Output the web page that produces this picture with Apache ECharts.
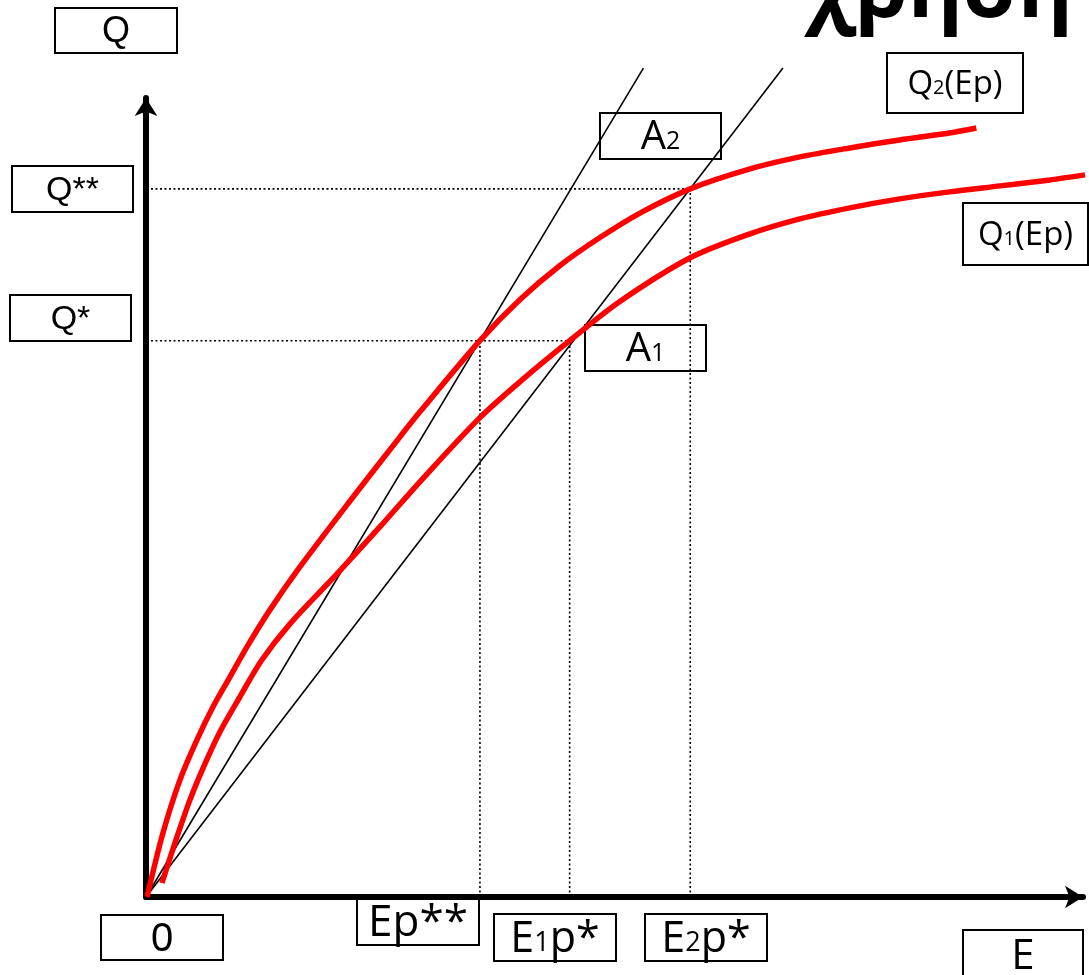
<!DOCTYPE html>
<html>
<head>
<meta charset="UTF-8">
<title>Q(E)</title>
<script src="https://cdn.jsdelivr.net/npm/echarts@6/dist/echarts.min.js"></script>
<style>
	html, body { margin: 0; padding: 0; background: #fff; }
	#main { width: 1089px; height: 975px; }
</style>
</head>
<body>
<div id="main"></div>
<script>
// red curves
var q2E = [0.1, 1.7, 3.4, 5.1, 6.7, 8.4, 10.1, 12.4, 15.4, 20.5, 25.5, 27.5, 33.5, 37.5, 41.5, 45.5, 49.6, 54.6, 60.6, 65.6, 70.6, 75.6, 80.6, 83.3];
var q2Q = [0, 6.4, 11.7, 15.7, 19.0, 22.0, 25.0, 28.7, 33.0, 39.7, 46.1, 48.6, 55.7, 59.8, 63.2, 66.0, 68.5, 70.9, 72.9, 74.1, 75.0, 75.8, 76.5, 77.0];
var q1E = [1.6, 2.9, 4.4, 5.9, 7.4, 9.4, 11.6, 14.4, 19.3, 23.5, 27.5, 33.5, 38.0, 42.5, 47.5, 54.6, 60.6, 65.6, 70.6, 75.6, 80.6, 85.7, 90.7, 94.2];
var q1Q = [1.4, 5.4, 9.7, 13.3, 16.5, 20.0, 23.7, 27.3, 32.5, 37.1, 41.6, 48.0, 52.0, 55.7, 59.6, 64.0, 66.4, 67.9, 69.0, 69.9, 70.6, 71.2, 71.8, 72.3];

// straight lines from the origin (end points)
var ray1 = [[0, 0], [49.9, 83]];
var ray2 = [[0, 0], [63.9, 83]];

// guide levels
var qStar = 55.7, qStar2 = 70.9;
var epStar2 = 33.5, e1pStar = 42.5, e2pStar = 54.6;

function pairs(xs, ys) {
	var out = [];
	for (var i = 0; i < xs.length; i++) out.push([xs[i], ys[i]]);
	return out;
}

var guides = [
	[[0.5, qStar2], [e2pStar, qStar2]],
	[[0.5, qStar], [e1pStar, qStar]],
	[[epStar2, 0], [epStar2, qStar]],
	[[e1pStar, 0], [e1pStar, qStar]],
	[[e2pStar, 0], [e2pStar, qStar2]]
];

var myChart = echarts.init(document.getElementById('main'));

var series = [];
guides.forEach(function (g) {
	series.push({
		type: 'line', data: g, showSymbol: false, clip: false, silent: true,
		lineStyle: { color: '#000', width: 1.6, type: [2, 2.5] }, z: 1
	});
});
[ray1, ray2].forEach(function (r) {
	series.push({
		type: 'line', data: r, showSymbol: false, clip: false,
		lineStyle: { color: '#000', width: 1.6 }, z: 2
	});
});
series.push({
	name: 'Q2(Ep)', type: 'line', data: pairs(q2E, q2Q), showSymbol: false, clip: false,
	smooth: 0.3, lineStyle: { color: '#ff0000', width: 5.5 }, z: 3
});
series.push({
	name: 'Q1(Ep)', type: 'line', data: pairs(q1E, q1Q), showSymbol: false, clip: false,
	smooth: 0.3, lineStyle: { color: '#ff0000', width: 5.5 }, z: 3
});

// boxed label helper
function box(x, y, w, h, rich, parts) {
	return {
		type: 'group', x: x, y: y, z: 100,
		children: [
			{ type: 'rect', shape: { x: 0, y: 0, width: w, height: h },
				style: { fill: 'none', stroke: '#000', lineWidth: 2 } },
			{ type: 'text', x: w / 2, y: h / 2,
				style: { text: parts, rich: rich, align: 'center', verticalAlign: 'middle', fill: '#000' } }
		]
	};
}
function richFor(size, font) {
	return {
		b: { fontSize: size, fontFamily: font, verticalAlign: 'bottom', lineHeight: size * 1.1 },
		s: { fontSize: Math.round(size * 0.62), fontFamily: font, verticalAlign: 'bottom', lineHeight: size * 1.1, padding: [0, 0, size * 0.09, 0] }
	};
}
var arial = 'Liberation Sans';
var cal = 'Open Sans';

var option = {
	animation: false,
	backgroundColor: '#fff',
	grid: { left: 146, right: 6, top: 98, bottom: 78 },
	xAxis: {
		type: 'value', min: 0, max: 94,
		axisLine: { show: true, lineStyle: { color: '#000', width: 6 }, symbol: ['none', 'arrow'], symbolSize: [17, 18] },
		axisTick: { show: false }, axisLabel: { show: false }, splitLine: { show: false }
	},
	yAxis: {
		type: 'value', min: 0, max: 80,
		axisLine: { show: true, lineStyle: { color: '#000', width: 6 }, symbol: ['none', 'arrow'], symbolSize: [17, 18] },
		axisTick: { show: false }, axisLabel: { show: false }, splitLine: { show: false }
	},
	series: series,
	graphic: [
		{ type: 'text', x: 806, y: -7, z: 100,
			style: { text: 'χρήση', fontSize: 84, fontWeight: 'bold', fontFamily: cal, fill: '#000', verticalAlign: 'middle' } },
		box(55, 8, 122, 45, richFor(36, arial), '{b|Q}'),
		box(12, 166, 121, 46, richFor(34, arial), '{b|Q**}'),
		box(10, 295, 121, 46, richFor(34, arial), '{b|Q*}'),
		box(600, 113, 121, 46, richFor(40, cal), '{b|A}{s|2}'),
		box(585, 325, 121, 46, richFor(40, cal), '{b|A}{s|1}'),
		box(887, 53, 136, 60, richFor(33, cal), '{b|Q}{s|2}{b|(Ep)}'),
		box(963, 203, 125, 62, richFor(33, cal), '{b|Q}{s|1}{b|(Ep)}'),
		box(101, 915, 122, 45, richFor(40, arial), '{b|0}'),
		box(357, 897, 122, 48, richFor(44, cal), '{b|Ep**}'),
		box(494, 914, 122, 47, richFor(43, cal), '{b|E}{s|1}{b|p*}'),
		box(645, 914, 122, 47, richFor(43, cal), '{b|E}{s|2}{b|p*}'),
		box(963, 930, 120, 50, richFor(42, cal), '{b|E}')
	]
};
myChart.setOption(option);
</script>
</body>
</html>
